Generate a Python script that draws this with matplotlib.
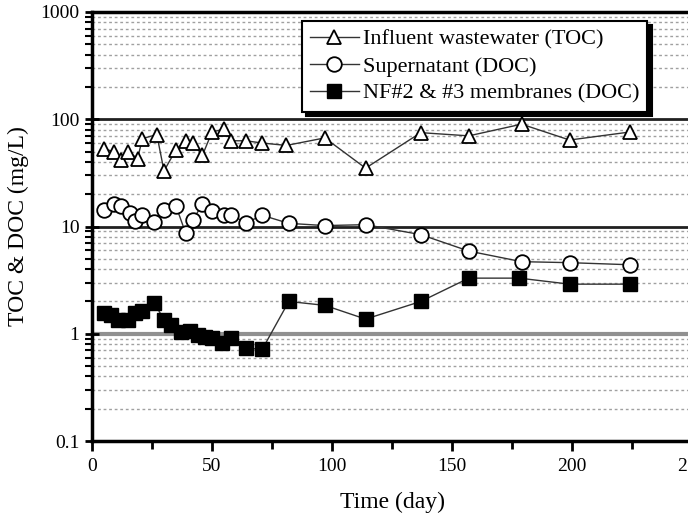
import numpy as np
import matplotlib
matplotlib.use("Agg")
import matplotlib.pyplot as plt
from matplotlib.ticker import LogLocator, FixedLocator, NullFormatter

plt.rcParams['font.family'] = ['Liberation Serif', 'DejaVu Serif']

# Influent wastewater (TOC)
toc_day = [5, 9, 12, 15, 19, 21, 27, 30, 35, 39, 42, 46, 50, 55, 58, 64, 71, 81,
           97, 114, 137, 157, 179, 199, 224]
toc_val = [53, 50, 42, 50, 43, 66, 72, 33, 52, 63, 60, 46, 76, 81, 63, 63, 60, 57,
           67, 35, 75, 70, 90, 64, 76]

# Supernatant (DOC)
sup_day = [5, 9, 12, 16, 18, 21, 26, 30, 35, 39, 42, 46, 50, 55, 58, 64, 71, 82,
           97, 114, 137, 157, 179, 199, 224]
sup_val = [14.2, 16.1, 15.5, 13.4, 11.2, 12.9, 11.1, 14.2, 15.5, 8.7, 11.5, 16.1,
           13.9, 12.9, 12.9, 10.8, 12.7, 10.7, 10.2, 10.4, 8.4, 5.9, 4.7, 4.6, 4.4]

# NF#2 & #3 membranes (DOC)
nf_day = [5, 8, 11, 15, 18, 21, 26, 30, 33, 37, 41, 44, 47, 50, 54, 58, 64, 71,
          82, 97, 114, 137, 157, 178, 199, 224]
nf_val = [1.56, 1.50, 1.35, 1.35, 1.56, 1.62, 1.93, 1.35, 1.20, 1.04, 1.07, 0.98,
          0.94, 0.92, 0.82, 0.92, 0.73, 0.72, 2.0, 1.84, 1.37, 2.0, 3.3, 3.3, 2.9, 2.9]

labels = ['Influent wastewater (TOC)', 'Supernatant (DOC)', 'NF#2 & #3 membranes (DOC)']

fig = plt.figure(figsize=(6.88, 5.24), dpi=100)
ax = fig.add_axes([92 / 688, 1 - 441 / 524, 600 / 688, 429 / 524])

ax.set_yscale('log')
ax.set_ylim(0.1, 1000)
ax.set_xlim(0, 250)

# minor grid (dotted) and decade lines
for dec in [0.1, 1, 10, 100]:
    for m in range(2, 10):
        ax.axhline(dec * m, color='#a0a0a0', lw=1.0, ls=(0, (2, 2)), zorder=1)
ax.axhline(1, color='#909090', lw=3, zorder=1.5)
ax.axhline(10, color='#202020', lw=2, zorder=1.5)
ax.axhline(100, color='#202020', lw=2, zorder=1.5)

line_kw = dict(color='#333333', lw=1.0, zorder=3)
ax.plot(toc_day, toc_val, marker='^', ms=10.5, mfc='white', mec='black', mew=1.3,
        label=labels[0], **line_kw)
ax.plot(sup_day, sup_val, marker='o', ms=10.5, mfc='white', mec='black', mew=1.3,
        label=labels[1], **line_kw)
ax.plot(nf_day, nf_val, marker='s', ms=10.5, mfc='black', mec='black',
        label=labels[2], **line_kw)

ax.set_xticks([0, 50, 100, 150, 200, 250])
ax.xaxis.set_minor_locator(FixedLocator([25, 75, 125, 175, 225]))
ax.set_yticks([0.1, 1, 10, 100, 1000])
ax.set_yticklabels(['0.1', '1', '10', '100', '1000'])
ax.yaxis.set_minor_locator(LogLocator(base=10, subs=np.arange(2, 10), numticks=20))
ax.yaxis.set_minor_formatter(NullFormatter())

ax.tick_params(axis='x', which='major', direction='out', length=7, width=2,
               labelsize=14, pad=5)
ax.tick_params(axis='x', which='minor', direction='out', length=6, width=2)
ax.tick_params(axis='y', which='major', direction='inout', length=10, width=2,
               labelsize=14, pad=4)
ax.tick_params(axis='y', which='minor', direction='out', length=5, width=1.5)

for s in ['left', 'bottom', 'top', 'right']:
    ax.spines[s].set_linewidth(2.5)
    ax.spines[s].set_color('black')

ax.set_xlabel('Time (day)', fontsize=17, labelpad=12)
ax.set_ylabel('TOC & DOC (mg/L)', fontsize=17, labelpad=8)

leg = ax.legend(loc='upper left', bbox_to_anchor=(302 / 688, 1 - 21 / 524),
                bbox_transform=fig.transFigure, fontsize=16, frameon=True,
                fancybox=False, edgecolor='black', labelspacing=0.3,
                handlelength=2.2, handletextpad=0.2, borderpad=0.35,
                borderaxespad=0,
                shadow={'ox': 3, 'oy': -3, 'facecolor': 'black', 'edgecolor': 'black', 'alpha': 1})
leg.get_frame().set_linewidth(1.5)
leg.set_zorder(5)

fig.savefig('out.png', dpi=100)
